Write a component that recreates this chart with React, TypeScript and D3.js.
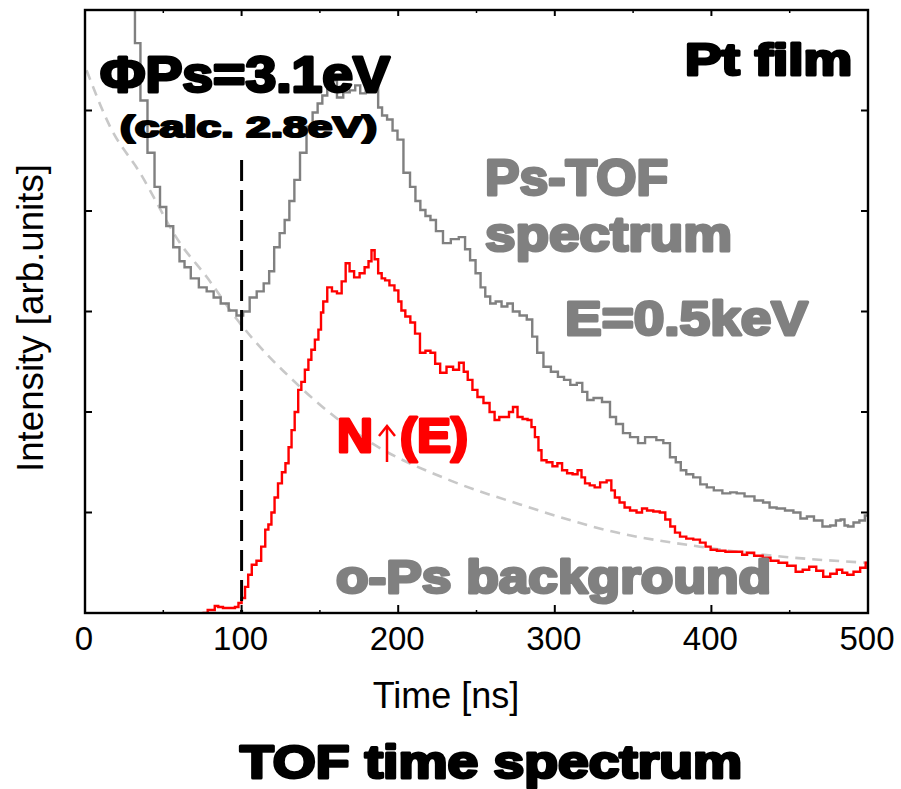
import React from "react";
import * as d3 from "d3";

// axis ticks
const xTicks = [0, 100, 200, 300, 400, 500];
const xMinorTicks = [50, 150, 250, 350, 450];
const yTicks = [1, 2, 3, 4, 5];

// Ps-TOF spectrum (grey histogram), time [ns] / intensity [arb.]
const psTime = [30, 33.8, 37, 42.8, 46, 49.8, 54, 58.7, 62, 65.1, 70, 75.4, 80, 84.3, 89, 94.5, 99, 103, 107.3, 112, 116.2, 119, 122.6, 126, 129, 132, 135.4, 139.2, 143.7, 147, 150.1, 153, 156.4, 159, 162.8, 167, 171.1, 174, 177.5, 181, 183.9, 186, 188.4, 191, 194.8, 198, 201.1, 205.6, 209.5, 212.5, 215.8, 219, 222.2, 226, 231.2, 236, 241.4, 244, 247.8, 251, 254.2, 257, 260.5, 264, 268, 271.4, 275, 280, 284.2, 287, 290.5, 295, 300, 304, 307.8, 312, 316.1, 319, 322.5, 327, 333.3, 337.2, 341, 346.1, 350, 356.3, 359, 362.7, 367, 371.6, 375.5, 379, 381.9, 386, 390.8, 395, 399.1, 404, 410, 414, 418.3, 424, 431, 435, 439.3, 444, 450, 454.7, 459, 463, 468, 473.8, 478, 481, 484, 486, 488.5, 493, 496, 500];
const psCounts = [6.6, 5.67, 5.1, 4.58, 4.24, 4.04, 3.85, 3.64, 3.5, 3.44, 3.33, 3.24, 3.2, 3.14, 3.08, 3.01, 2.96, 3.0, 3.14, 3.2, 3.28, 3.4, 3.64, 3.78, 3.91, 4.1, 4.31, 4.58, 4.84, 4.98, 5.07, 5.15, 5.23, 5.3, 5.13, 5.18, 5.2, 5.25, 5.17, 5.22, 5.2, 5.28, 5.03, 4.95, 4.91, 4.8, 4.71, 4.38, 4.24, 4.1, 4.01, 3.95, 3.91, 3.8, 3.68, 3.72, 3.74, 3.62, 3.51, 3.38, 3.24, 3.15, 3.08, 3.1, 3.05, 3.08, 3.0, 2.96, 2.92, 2.75, 2.59, 2.45, 2.4, 2.35, 2.32, 2.27, 2.29, 2.2, 2.12, 2.14, 2.1, 1.95, 1.88, 1.79, 1.75, 1.69, 1.75, 1.75, 1.72, 1.69, 1.55, 1.5, 1.42, 1.38, 1.35, 1.28, 1.25, 1.22, 1.19, 1.2, 1.19, 1.16, 1.12, 1.1, 1.05, 1.04, 1.02, 1.0, 0.94, 0.96, 0.92, 0.86, 0.87, 0.92, 0.93, 0.87, 0.86, 0.9, 0.92, 0.97];

// N↑(E) (red histogram)
const nTime = [75, 81.7, 84, 86.2, 90, 94.5, 97, 99, 101, 103.4, 105, 108, 111, 114, 116.2, 118, 120.1, 122, 124.5, 127, 129, 131, 132.8, 135, 137.3, 139, 141.8, 143.5, 145.6, 148, 150.1, 151.3, 153, 156.4, 159, 162.8, 165, 167.9, 170, 173.7, 177, 180.1, 182, 183.9, 186, 188.4, 190.5, 192.8, 196, 199.2, 201, 203.1, 206, 209.5, 212, 215.8, 219, 222.2, 225, 228.6, 233.1, 237, 240.7, 243, 245.8, 249, 252.2, 256.7, 260, 263.1, 266, 269.5, 272, 274.6, 277.8, 281, 284.2, 286, 288.6, 290.5, 292.5, 297, 300, 303.3, 306, 309.7, 313, 316.1, 318, 320.6, 324, 326.9, 331, 335.2, 337, 339.7, 343, 346.1, 350, 354.4, 357, 360.8, 365, 369.1, 372, 375.5, 378, 381.9, 386, 390.8, 394.6, 398, 401, 406, 411.9, 418.3, 421, 424.6, 430, 435.5, 440, 445.7, 451, 456.6, 460, 464.9, 469, 473.8, 478, 482.1, 485, 488.5, 493, 497, 500];
const nCounts = [0.0, 0.03, 0.07, 0.06, 0.05, 0.05, 0.06, 0.1, 0.15, 0.26, 0.38, 0.48, 0.52, 0.66, 0.83, 0.88, 1.0, 1.15, 1.29, 1.4, 1.49, 1.65, 1.82, 2.0, 2.22, 2.3, 2.42, 2.52, 2.62, 2.72, 2.82, 2.99, 3.1, 3.24, 3.2, 3.18, 3.3, 3.48, 3.4, 3.34, 3.38, 3.44, 3.5, 3.61, 3.52, 3.38, 3.33, 3.31, 3.26, 3.21, 3.1, 3.01, 2.95, 2.89, 2.78, 2.59, 2.61, 2.59, 2.48, 2.39, 2.45, 2.42, 2.49, 2.4, 2.32, 2.22, 2.15, 2.09, 2.0, 1.92, 1.95, 1.95, 2.0, 2.05, 1.95, 1.93, 1.92, 1.85, 1.75, 1.62, 1.52, 1.5, 1.46, 1.49, 1.42, 1.39, 1.38, 1.42, 1.35, 1.29, 1.27, 1.25, 1.3, 1.32, 1.22, 1.15, 1.1, 1.05, 1.02, 1.0, 1.04, 1.02, 1.01, 1.0, 0.93, 0.86, 0.8, 0.76, 0.74, 0.73, 0.7, 0.66, 0.63, 0.62, 0.61, 0.61, 0.58, 0.6, 0.57, 0.55, 0.52, 0.5, 0.47, 0.41, 0.43, 0.46, 0.42, 0.36, 0.39, 0.43, 0.4, 0.38, 0.41, 0.45, 0.5];

// o-Ps background (dashed)
const bgTime = [1, 16, 35.1, 60.7, 77.9, 97.1, 137.3, 180.1, 233.1, 275.9, 339.7, 392.7, 445.7, 499.4];
const bgCounts = [5.4, 4.84, 4.38, 3.68, 3.34, 2.92, 2.25, 1.72, 1.32, 1.09, 0.8, 0.66, 0.56, 0.5];

const W = 901;
const H = 789;
const M = { left: 85, right: 868, top: 10, bottom: 613 };

const heavy = "'Liberation Sans', Arial, sans-serif";

function Heavy({ x, y, size, fill, len, weight = 3, children }: any) {
  return (
    <text
      x={x}
      y={y}
      fontFamily={heavy}
      fontWeight="bold"
      fontSize={size}
      fill={fill}
      stroke={fill}
      strokeWidth={weight}
      strokeLinejoin="round"
      textLength={len}
      lengthAdjust="spacingAndGlyphs"
    >
      {children}
    </text>
  );
}

export default function App() {
  const x = d3.scaleLinear().domain([0, 500]).range([M.left, M.right]);
  const y = d3.scaleLinear().domain([0, 6]).range([M.bottom, M.top]);

  const stepLine = d3
    .line<[number, number]>()
    .x((d) => x(d[0]))
    .y((d) => y(d[1]))
    .curve(d3.curveStep);

  const smoothLine = d3
    .line<[number, number]>()
    .x((d) => x(d[0]))
    .y((d) => y(d[1]))
    .curve(d3.curveMonotoneX);

  const psPath = stepLine(psTime.map((t, i) => [t, psCounts[i]]));
  const nPath = stepLine(nTime.map((t, i) => [t, nCounts[i]]));
  const bgPath = smoothLine(bgTime.map((t, i) => [t, bgCounts[i]]));

  return (
    <svg
      width={W}
      height={H}
      style={{ position: "absolute", left: 0, top: 0, background: "#fff" }}
    >
      <defs>
        <clipPath id="plot">
          <rect x={M.left} y={M.top} width={M.right - M.left} height={M.bottom - M.top} />
        </clipPath>
      </defs>

      <g clipPath="url(#plot)" fill="none">
        <path d={bgPath || ""} stroke="#c8c8c8" strokeWidth={2.6} strokeDasharray="10 7" />
        <path d={psPath || ""} stroke="#808080" strokeWidth={2.4} />
        <path d={nPath || ""} stroke="#ff0000" strokeWidth={2.4} />
      </g>

      {/* onset marker */}
      <line
        x1={x(100)}
        x2={x(100)}
        y1={160}
        y2={M.bottom}
        stroke="#000"
        strokeWidth={3}
        strokeDasharray="21 9"
      />

      {/* frame */}
      <rect
        x={M.left}
        y={M.top}
        width={M.right - M.left}
        height={M.bottom - M.top}
        fill="none"
        stroke="#000"
        strokeWidth={2.4}
      />

      {/* x ticks, bottom & top */}
      {xTicks.map((t) => (
        <g key={"xt" + t} stroke="#000" strokeWidth={2}>
          <line x1={x(t)} x2={x(t)} y1={M.bottom} y2={M.bottom - 8} />
          <line x1={x(t)} x2={x(t)} y1={M.top} y2={M.top + 6} />
        </g>
      ))}
      {xMinorTicks.map((t) => (
        <g key={"xm" + t} stroke="#000" strokeWidth={1.5}>
          <line x1={x(t)} x2={x(t)} y1={M.bottom} y2={M.bottom - 3} />
          <line x1={x(t)} x2={x(t)} y1={M.top} y2={M.top + 3} />
        </g>
      ))}
      {yTicks.map((v) => (
        <g key={"yt" + v} stroke="#000" strokeWidth={2}>
          <line x1={M.left} x2={M.left + 7} y1={y(v)} y2={y(v)} />
          <line x1={M.right} x2={M.right - 7} y1={y(v)} y2={y(v)} />
        </g>
      ))}

      {xTicks.map((t) => (
        <text
          key={"xl" + t}
          x={x(t) - 1}
          y={650}
          textAnchor="middle"
          fontFamily="'Liberation Sans', Arial, sans-serif"
          fontSize={33}
          fill="#000"
        >
          {t}
        </text>
      ))}

      <text
        x={446}
        y={708}
        textAnchor="middle"
        fontFamily="'Liberation Sans', Arial, sans-serif"
        fontSize={36}
        fill="#000"
      >
        Time [ns]
      </text>
      <text
        transform="translate(43,318) rotate(-90)"
        textAnchor="middle"
        fontFamily="'Liberation Sans', Arial, sans-serif"
        fontSize={36}
        fill="#000"
        textLength={308}
        lengthAdjust="spacingAndGlyphs"
      >
        Intensity [arb.units]
      </text>

      {/* annotations */}
      <Heavy x={100} y={92} size={50} fill="#000" len={290}>ΦPs=3.1eV</Heavy>
      <Heavy x={120} y={137} size={30} fill="#000" len={257} weight={2.2}>(calc. 2.8eV)</Heavy>
      <Heavy x={685} y={75} size={45} fill="#000" len={167}>Pt film</Heavy>
      <Heavy x={485} y={195} size={50} fill="#808080" len={183}>Ps-TOF</Heavy>
      <Heavy x={485} y={251} size={49} fill="#808080" len={247}>spectrum</Heavy>
      <Heavy x={565} y={335} size={48} fill="#808080" len={243}>E=0.5keV</Heavy>
      <Heavy x={337} y={452} size={48} fill="#ff0000" len={36}>N</Heavy>
      <g stroke="#ff0000" strokeWidth={2.5} fill="none">
        <line x1={387} x2={387} y1={427} y2={462} />
        <polyline points="379,436 387,426 395,436" />
      </g>
      <Heavy x={400} y={452} size={48} fill="#ff0000" len={68}>(E)</Heavy>
      <Heavy x={336} y={593} size={46} fill="#808080" len={435}>o-Ps background</Heavy>

      <Heavy x={240} y={778} size={47} fill="#000" len={502}>TOF time spectrum</Heavy>
    </svg>
  );
}
